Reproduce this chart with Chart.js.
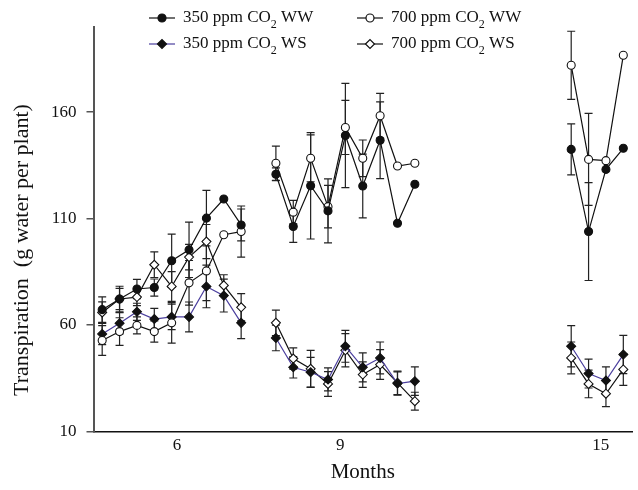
<!DOCTYPE html>
<html>
<head>
<meta charset="utf-8">
<script src="https://cdn.jsdelivr.net/npm/chart.js@4"></script>
<style>
    html, body { margin: 0; padding: 0; background: #fff; }
    #wrap { width: 638px; height: 490px; }
</style>
</head>
<body>
<div id="wrap"><canvas id="chart"></canvas></div>
<script>
// sample number along the x axis; gaps separate the 6, 9 and 15 month series
const sampleIndex = [0, 1, 2, 3, 4, 5, 6, 7, 8, 10, 11, 12, 13, 14, 15, 16, 17, 18, 27, 28, 29, 30];
const monthLabels = ['6', '9', '15'];
const monthTickAt = [4.3, 13.7, 28.7];
const yTicks = [10, 60, 110, 160];

const ww350 = [67.2, 72.2, 76.9, 77.6, 90.2, 95.3, 110.2, 119.2, 107.0,
    130.8, 106.3, 125.4, 113.6, 149.0, 125.3, 146.8, 107.8, 126.1,
    142.5, 103.9, 133.1, 143.0];
const ww350Err = [6, 6, 4.5, 4, 12.5, 13, 13, 0, 7.5,
    3, 7.5, 25, 15, 24.5, 15, 18, 0, 0,
    12, 23, 0, 0];
const ww700 = [52.7, 56.9, 59.8, 56.9, 61.0, 79.8, 85.4, 102.4, 103.9,
    136.0, 113.0, 138.3, 115.6, 152.8, 138.3, 158.3, 134.7, 136.0,
    182.0, 137.8, 137.2, 186.7];
const ww700Err = [7, 6.5, 4, 5, 9.5, 10.5, 14, 0, 12,
    8, 5.5, 11, 10, 12.7, 8.6, 10.5, 0, 0,
    16, 21.6, 0, 0];
const ws350 = [55.8, 60.8, 66.2, 62.8, 63.8, 63.8, 78.1, 73.8, 61.0,
    53.9, 40.1, 37.8, 34.4, 50.0, 40.1, 44.5, 32.5, 33.6,
    50.0, 37.2, 33.9, 46.1];
const ws350Err = [5, 5, 4, 5, 6, 7, 10, 7.7, 7.4,
    6, 5, 7, 5.4, 7.5, 6.8, 7.5, 5.5, 6.7,
    9.7, 6.8, 6.4, 9];
const ws700 = [65.9, 72.2, 73.1, 88.3, 78.1, 91.9, 99.2, 78.6, 68.3,
    61.0, 44.2, 39.4, 32.3, 48.1, 36.7, 41.4, 32.8, 24.2,
    44.5, 32.3, 27.7, 39.1];
const ws700Err = [5, 5, 4, 6, 7, 6, 8, 5, 6.4,
    6, 5, 8.7, 5.8, 7.8, 6, 7, 5.5, 4.2,
    7.5, 6.5, 6.1, 7.5];

const serif = "'Liberation Serif', 'DejaVu Serif', serif";

function buildPoints(values, errors){
    const pts = [];
    values.forEach((v, i) => {
        pts.push({x: sampleIndex[i], y: v, err: errors[i]});
        const next = sampleIndex[i + 1];
        if (next !== undefined && next - sampleIndex[i] > 1) pts.push({x: sampleIndex[i] + 1, y: null});
    });
    return pts;
}

function series(label, values, errors, lineColor, pointStyle, fill, radius){
    return {
        label: label,
        data: buildPoints(values, errors),
        borderColor: lineColor,
        borderWidth: 1.2,
        pointStyle: pointStyle,
        pointRadius: radius,
        pointBackgroundColor: fill,
        pointBorderColor: '#111',
        pointBorderWidth: 1.1,
        spanGaps: false,
        tension: 0
    };
}

// vertical error bars with caps, placed through the y scale
const errorBars = {
    id: 'errorBars',
    beforeDatasetsDraw(chart){
        const ctx = chart.ctx;
        const yScale = chart.scales.y;
        ctx.save();
        ctx.strokeStyle = '#222';
        ctx.lineWidth = 1.2;
        chart.data.datasets.forEach((ds, di) => {
            const meta = chart.getDatasetMeta(di);
            ds.data.forEach((p, j) => {
                if (p.y === null || !p.err) return;
                const x = meta.data[j].x;
                const top = yScale.getPixelForValue(p.y + p.err);
                const bot = yScale.getPixelForValue(p.y - p.err);
                ctx.beginPath();
                ctx.moveTo(x, top); ctx.lineTo(x, bot);
                ctx.moveTo(x - 4, top); ctx.lineTo(x + 4, top);
                ctx.moveTo(x - 4, bot); ctx.lineTo(x + 4, bot);
                ctx.stroke();
            });
        });
        ctx.restore();
    }
};

// two-column legend with the subscript in CO2, plus the y axis title
const legendAndTitle = {
    id: 'legendAndTitle',
    afterDraw(chart){
        const ctx = chart.ctx;
        ctx.save();
        chart.data.datasets.forEach((ds, i) => {
            const x0 = i % 2 === 0 ? 149 : 357;
            const y = i < 2 ? 18 : 44;
            ctx.strokeStyle = ds.borderColor;
            ctx.lineWidth = 1.2;
            ctx.beginPath();
            ctx.moveTo(x0, y); ctx.lineTo(x0 + 26, y);
            ctx.stroke();
            ctx.fillStyle = ds.pointBackgroundColor;
            ctx.strokeStyle = '#111';
            Chart.helpers.drawPoint(ctx, {pointStyle: ds.pointStyle, radius: ds.pointRadius, borderWidth: 1.1, rotation: 0}, x0 + 13, y);
            const parts = ds.label.split('|');
            ctx.fillStyle = '#111';
            ctx.textBaseline = 'middle';
            ctx.textAlign = 'left';
            let tx = x0 + 34;
            ctx.font = '17px ' + serif;
            ctx.fillText(parts[0], tx, y);
            tx += ctx.measureText(parts[0]).width;
            ctx.font = '12px ' + serif;
            ctx.fillText('2', tx, y + 7);
            tx += ctx.measureText('2').width;
            ctx.font = '17px ' + serif;
            ctx.fillText(parts[1], tx, y);
        });
        ctx.translate(22, 250);
        ctx.rotate(-Math.PI / 2);
        ctx.font = '22px ' + serif;
        ctx.textAlign = 'center';
        ctx.textBaseline = 'middle';
        ctx.fillStyle = '#111';
        ctx.fillText('Transpiration  (g water per plant)', 0, 0);
        ctx.restore();
    }
};

new Chart(document.getElementById('chart'), {
    type: 'line',
    data: {
        datasets: [
            series('350 ppm CO| WW', ww350, ww350Err, '#111', 'circle', '#111', 4),
            series('700 ppm CO| WW', ww700, ww700Err, '#111', 'circle', '#fff', 4),
            series('350 ppm CO| WS', ws350, ws350Err, '#4b3f9e', 'rectRot', '#111', 4.5),
            series('700 ppm CO| WS', ws700, ws700Err, '#111', 'rectRot', '#fff', 4.5)
        ]
    },
    options: {
        responsive: true,
        maintainAspectRatio: false,
        animation: false,
        layout: {padding: {top: 27, left: 41, right: 6, bottom: 0}},
        plugins: {
            legend: {display: false},
            tooltip: {enabled: false}
        },
        scales: {
            x: {
                type: 'linear',
                min: -0.5,
                max: 30.5,
                afterBuildTicks: (scale) => { scale.ticks = monthTickAt.map(v => ({value: v})); },
                ticks: {
                    autoSkip: false,
                    maxRotation: 0,
                    padding: 4,
                    color: '#111',
                    font: {family: serif, size: 17},
                    callback: (value, index) => monthLabels[index]
                },
                grid: {display: false, drawTicks: false},
                border: {display: true, color: '#111', width: 1.5},
                title: {
                    display: true,
                    text: 'Months',
                    color: '#111',
                    font: {family: serif, size: 21},
                    padding: {top: 0, bottom: 5}
                }
            },
            y: {
                min: 10,
                max: 200,
                afterBuildTicks: (scale) => { scale.ticks = yTicks.map(v => ({value: v})); },
                ticks: {
                    padding: 10,
                    color: '#111',
                    font: {family: serif, size: 17}
                },
                grid: {drawOnChartArea: false, drawTicks: true, tickLength: 7, color: '#555', lineWidth: 1.5},
                border: {display: true, color: '#555', width: 2}
            }
        }
    },
    plugins: [errorBars, legendAndTitle]
});
</script>
</body>
</html>
